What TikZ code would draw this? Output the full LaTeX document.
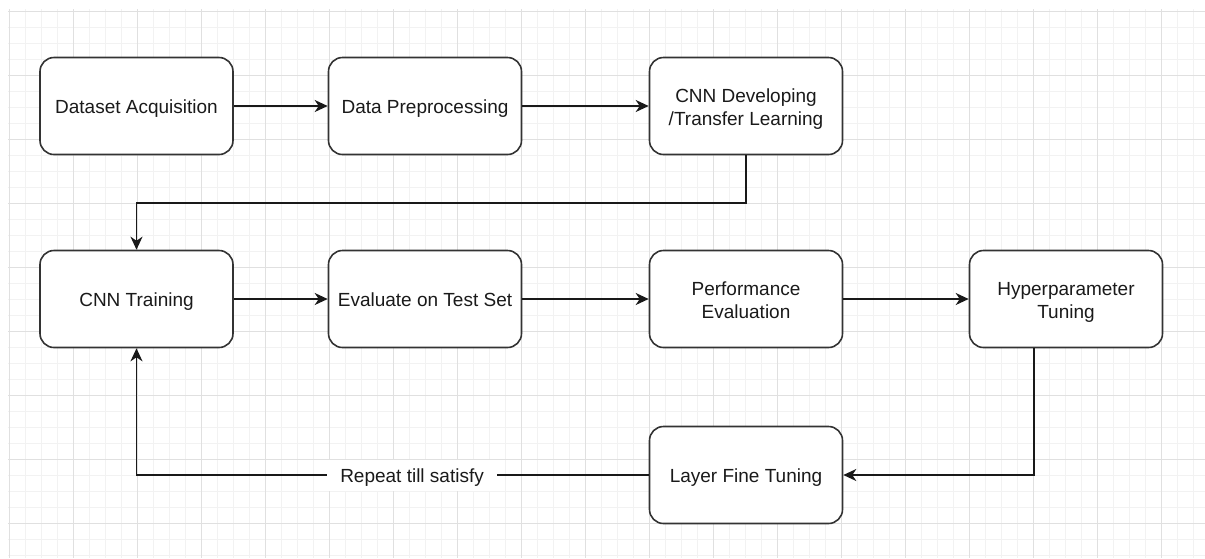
\documentclass[tikz,border=0pt]{standalone}
\usepackage{fontspec}
\setmainfont{Liberation Sans}
\usetikzlibrary{arrows.meta,calc}
\definecolor{gridminor}{HTML}{F2F2F2}
\definecolor{gridmajor}{HTML}{E0E0E0}
\definecolor{boxline}{HTML}{333333}
\definecolor{txt}{HTML}{1A1A1A}
% text block set a little lower than its box centre, keeping its measured size
\newcommand\boxtext[1]{\raisebox{-3pt}[\height][\depth]{\begin{tabular}{@{}c@{}}#1\end{tabular}}}
\tikzset{
  stepbox/.style={draw=boxline, line width=1.6pt, fill=white, rounded corners=14pt,
    minimum width=193pt, minimum height=97pt, align=center, text=txt,
    font=\fontsize{19pt}{23pt}\selectfont, inner sep=0pt},
  flow/.style={draw=black!90, line width=1.7pt,
    -{Stealth[length=13pt, width=12pt, inset=4pt]}},
  looplabel/.style={fill=white, text=txt, font=\fontsize{19pt}{23pt}\selectfont,
    inner xsep=13pt, inner ysep=4pt}
}
\begin{document}
\begin{tikzpicture}[x=1pt, y=-1pt]
  \useasboundingbox (0,0) rectangle (1205,558);
  \fill[white] (0,0) rectangle (1205,558);
  % background grid: fine lines every 16, heavier lines every 64
  \foreach \gx in {9,25,...,1205} {\draw[gridminor, line width=1pt] (\gx,9) -- (\gx,558);}
  \foreach \gy in {11,27,...,558} {\draw[gridminor, line width=1pt] (8,\gy) -- (1205,\gy);}
  \foreach \gx in {9,73,...,1205} {\draw[gridmajor, line width=1pt] (\gx,9) -- (\gx,558);}
  \foreach \gy in {11,75,...,558} {\draw[gridmajor, line width=1pt] (8,\gy) -- (1205,\gy);}

  % first row
  \node[stepbox] (da)  at (136.5,106) {\boxtext{Dataset Acquisition}};
  \node[stepbox] (dp)  at (425,106)   {\boxtext{Data Preprocessing}};
  \node[stepbox] (cnn) at (746,106)   {\boxtext{CNN Developing\\/Transfer Learning}};
  % second row
  \node[stepbox] (tr)  at (136.5,299) {\boxtext{CNN Training}};
  \node[stepbox] (ev)  at (425,299)   {\boxtext{Evaluate on Test Set}};
  \node[stepbox] (pe)  at (746,299)   {\boxtext{Performance\\Evaluation}};
  \node[stepbox] (hp)  at (1066,299)  {\boxtext{Hyperparameter\\Tuning}};
  % third row
  \node[stepbox] (lf)  at (746,475)   {\boxtext{Layer Fine Tuning}};

  % connectors
  \draw[flow] (da) -- (dp);
  \draw[flow] (dp) -- (cnn);
  \draw[flow] (cnn.south) -- ++(0,48) -| (tr.north);
  \draw[flow] (tr) -- (ev);
  \draw[flow] (ev) -- (pe);
  \draw[flow] (pe) -- (hp);
  \coordinate (hpout) at ($(hp.south)+(-32,0)$);
  \draw[flow] (hpout) |- (lf.east);
  \draw[flow] (lf.west) -| node[looplabel, pos=0.231] (rep) {\boxtext{Repeat till satisfy}} (tr.south);
\end{tikzpicture}
\end{document}
